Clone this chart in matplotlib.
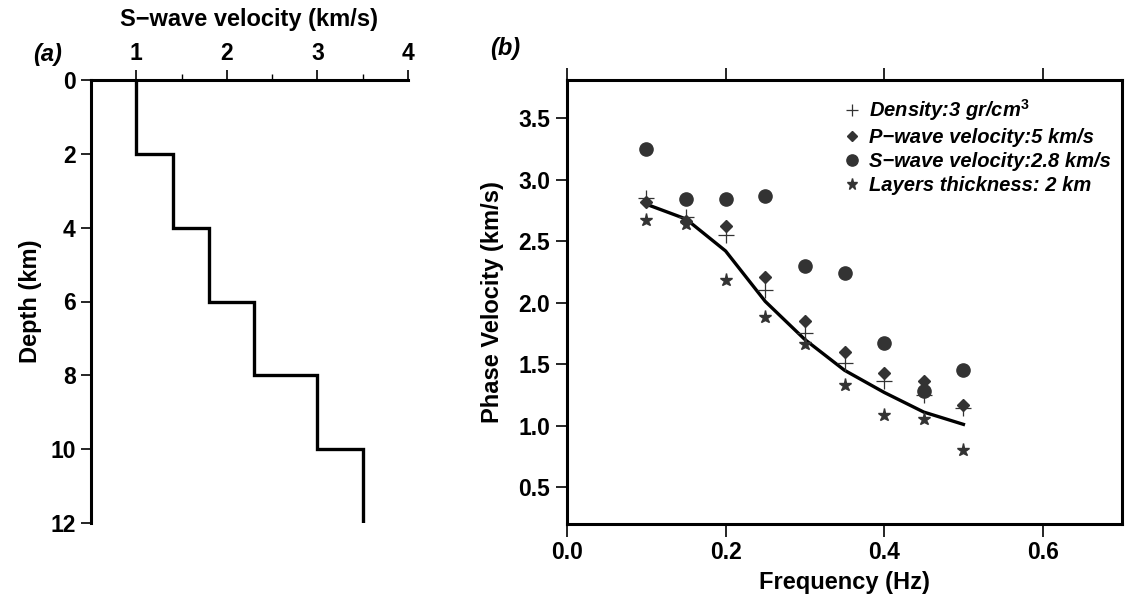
import matplotlib
matplotlib.use("Agg")
import matplotlib.pyplot as plt
import numpy as np

plt.rcParams['font.family'] = ['Liberation Sans', 'DejaVu Sans']
plt.rcParams['font.weight'] = 'bold'
plt.rcParams['mathtext.fontset'] = 'custom'
plt.rcParams['mathtext.it'] = 'Liberation Sans:italic:bold'
plt.rcParams['mathtext.rm'] = 'Liberation Sans:bold'
plt.rcParams['mathtext.bf'] = 'Liberation Sans:bold'

# ---- Panel (a): S-wave velocity profile ----
layer_tops = [0, 2, 4, 6, 8, 10]
layer_bottoms = [2, 4, 6, 8, 10, 12]
vs_layers = [1.0, 1.4, 1.8, 2.3, 3.0, 3.5]

# ---- Panel (b): dispersion curves ----
freq = [0.10, 0.15, 0.20, 0.25, 0.30, 0.35, 0.40, 0.45, 0.50]
reference = [2.80, 2.68, 2.42, 2.01, 1.70, 1.45, 1.27, 1.11, 1.01]
density = [2.85, 2.70, 2.55, 2.10, 1.75, 1.51, 1.36, 1.25, 1.14]
p_velocity = [2.82, 2.66, 2.62, 2.21, 1.85, 1.60, 1.43, 1.36, 1.17]
s_velocity = [3.25, 2.84, 2.84, 2.87, 2.30, 2.24, 1.67, 1.28, 1.45]
thickness = [2.67, 2.64, 2.18, 1.88, 1.66, 1.33, 1.09, 1.05, 0.80]

legend_labels = [r'Density:3 gr/cm$^{3}$', 'P\u2212wave velocity:5 km/s',
                 'S\u2212wave velocity:2.8 km/s', 'Layers thickness: 2 km']

W, H = 1126, 603
fig = plt.figure(figsize=(W / 100, H / 100), dpi=100)
TICK = 16.5
LAB = 17

# ---------------- (a) ----------------
axa = fig.add_axes([91 / W, 1 - 523 / H, (408 - 91) / W, (523 - 80) / H])
xs, ys = [], []
for v, t, b in zip(vs_layers, layer_tops, layer_bottoms):
    xs += [v, v]
    ys += [t, b]
axa.plot(xs, ys, color='black', lw=2.4, solid_joinstyle='miter')
axa.set_xlim(0.5, 4.0)
axa.set_ylim(12, 0)
axa.xaxis.tick_top()
axa.xaxis.set_label_position('top')
axa.set_xticks([1, 2, 3, 4])
axa.set_xticks([1.5, 2.5, 3.5], minor=True)
axa.set_yticks(np.arange(0, 13, 2))
for s in ['right', 'bottom']:
    axa.spines[s].set_visible(False)
for s in ['left', 'top']:
    axa.spines[s].set_linewidth(2.2)
axa.tick_params(axis='both', which='major', direction='out', length=7, width=1.2,
                labelsize=TICK, pad=4)
axa.tick_params(axis='x', which='minor', direction='out', length=4, width=1.0)
axa.set_xlabel('S\u2212wave velocity (km/s)', fontsize=LAB, fontweight='bold', labelpad=11)
axa.set_ylabel('Depth (km)', fontsize=LAB, fontweight='bold', labelpad=6)
for lab in axa.get_xticklabels() + axa.get_yticklabels():
    lab.set_fontweight('bold')

# ---------------- (b) ----------------
axb = fig.add_axes([567 / W, 1 - 524 / H, (1122 - 567) / W, (524 - 80) / H])
mc = '#333333'
axb.plot(freq, reference, color='black', lw=2.4, zorder=3)
axb.plot(freq, density, linestyle='none', marker='+', ms=11, mew=0.9, color=mc,
         label=legend_labels[0], zorder=4)
axb.plot(freq, p_velocity, linestyle='none', marker='D', ms=6.5, color=mc,
         label=legend_labels[1], zorder=4)
axb.plot(freq, s_velocity, linestyle='none', marker='o', ms=9.5, color=mc,
         label=legend_labels[2], zorder=4)
axb.plot(freq, thickness, linestyle='none', marker='*', ms=9.5, color=mc,
         label=legend_labels[3], zorder=4)
axb.set_xlim(0, 0.7)
axb.set_ylim(0.2, 3.81)
axb.set_xticks([0.0, 0.2, 0.4, 0.6])
axb.set_yticks([0.5, 1.0, 1.5, 2.0, 2.5, 3.0, 3.5])
axb.xaxis.set_major_formatter(matplotlib.ticker.FormatStrFormatter('%.1f'))
axb.yaxis.set_major_formatter(matplotlib.ticker.FormatStrFormatter('%.1f'))
axb.tick_params(axis='x', which='major', direction='out', length=9, width=1.2,
                top=True, labeltop=False, labelsize=TICK, pad=3)
axb.tick_params(axis='y', which='major', direction='out', length=8, width=1.2,
                labelsize=TICK, pad=4)
for s in axb.spines.values():
    s.set_linewidth(2.2)
axb.set_xlabel('Frequency (Hz)', fontsize=LAB, fontweight='bold', labelpad=5)
axb.set_ylabel('Phase Velocity (km/s)', fontsize=LAB, fontweight='bold', labelpad=10)
for lab in axb.get_xticklabels() + axb.get_yticklabels():
    lab.set_fontweight('bold')
leg = axb.legend(loc='upper left', bbox_to_anchor=(0.482, 0.98), frameon=False,
                 prop={'size': 14.5, 'weight': 'bold', 'style': 'italic'},
                 handlelength=0.9, handletextpad=0.4, labelspacing=0.25,
                 borderaxespad=0.0, markerscale=0.85)

fig.text(48 / W, 1 - 55 / H, '(a)', fontsize=LAB, fontweight='bold', fontstyle='italic',
         ha='center', va='center')
fig.text(505 / W, 1 - 48 / H, '(b)', fontsize=LAB, fontweight='bold', fontstyle='italic',
         ha='center', va='center')

fig.savefig('out.png', dpi=100)
